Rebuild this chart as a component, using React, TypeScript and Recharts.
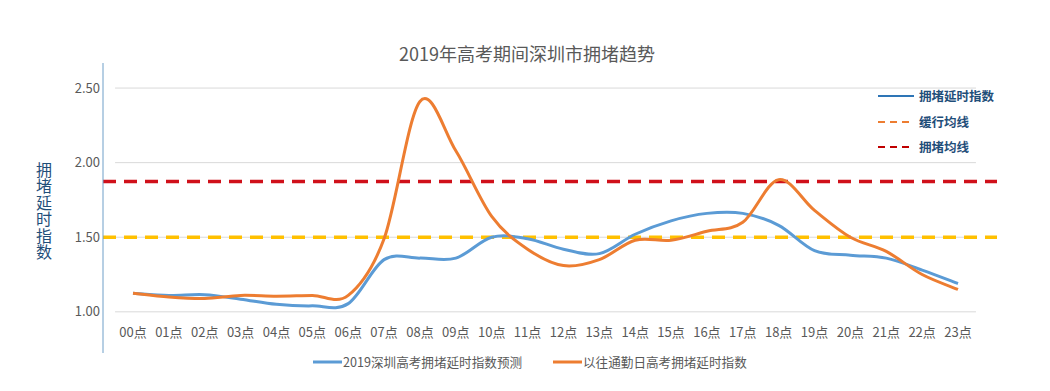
import React from "react";
import { LineChart, Line, XAxis, YAxis, ReferenceLine } from "recharts";

const hours = [
  "00点", "01点", "02点", "03点", "04点", "05点", "06点", "07点",
  "08点", "09点", "10点", "11点", "12点", "13点", "14点", "15点",
  "16点", "17点", "18点", "19点", "20点", "21点", "22点", "23点",
];
const forecast2019 = [
  1.125, 1.11, 1.115, 1.085, 1.05, 1.04, 1.055, 1.35, 1.36, 1.36, 1.5, 1.49,
  1.42, 1.39, 1.52, 1.61, 1.66, 1.66, 1.58, 1.41, 1.38, 1.36, 1.28, 1.19,
];
const pastCommute = [
  1.125, 1.1, 1.09, 1.11, 1.105, 1.11, 1.11, 1.49, 2.41, 2.08, 1.64, 1.42,
  1.31, 1.35, 1.48, 1.48, 1.54, 1.6, 1.886, 1.68, 1.5, 1.405, 1.25, 1.15,
];
const yTicks = [1.0, 1.5, 2.0, 2.5];
const slowAvg = 1.5;
const jamAvg = 1.874;

const FONT = '"Noto Sans CJK SC", "Noto Sans", sans-serif';

// excel-style smoothing (catmull-rom through every point)
function smoothCurve(context: any) {
  let pts: number[][] = [];
  return {
    areaStart() {},
    areaEnd() {},
    lineStart() {
      pts = [];
    },
    lineEnd() {
      const n = pts.length;
      if (!n) return;
      context.moveTo(pts[0][0], pts[0][1]);
      for (let i = 0; i < n - 1; i++) {
        const p0 = pts[Math.max(i - 1, 0)];
        const p1 = pts[i];
        const p2 = pts[i + 1];
        const p3 = pts[Math.min(i + 2, n - 1)];
        context.bezierCurveTo(
          p1[0] + (p2[0] - p0[0]) / 6,
          p1[1] + (p2[1] - p0[1]) / 6,
          p2[0] - (p3[0] - p1[0]) / 6,
          p2[1] - (p3[1] - p1[1]) / 6,
          p2[0],
          p2[1]
        );
      }
    },
    point(x: number, y: number) {
      pts.push([+x, +y]);
    },
  };
}

const data = hours.map((h, i) => ({
  idx: i,
  forecast: forecast2019[i],
  past: pastCommute[i],
}));

export default function App() {
  return (
    <div
      style={{
        position: "absolute",
        left: 0,
        top: 0,
        width: 1050,
        height: 391,
        background: "#fff",
        fontFamily: FONT,
      }}
    >
      <LineChart
        width={1050}
        height={391}
        data={data}
        margin={{ top: 63, right: 53, bottom: 38, left: 0 }}
      >
        <XAxis
          dataKey="idx"
          type="number"
          domain={[-0.836, 24.087]}
          allowDataOverflow
          ticks={hours.map((_, i) => i)}
          tickFormatter={(i: number) => hours[i]}
          axisLine={false}
          tickLine={false}
          mirror
          height={1}
          tickSize={0}
          tickMargin={16}
          interval={0}
          tick={{ fontSize: 13, fill: "#595959", fontFamily: FONT }}
        />
        <YAxis
          type="number"
          domain={[0.724, 2.668]}
          allowDataOverflow
          ticks={yTicks}
          tickFormatter={(v: number) => v.toFixed(2)}
          width={103}
          axisLine={{ stroke: "#6f9fc8", strokeWidth: 1 }}
          tickLine={false}
          tickSize={0}
          tickMargin={3}
          tick={{ fontSize: 13, fill: "#595959", fontFamily: FONT }}
        />
        {yTicks.map((v) => (
          <ReferenceLine
            key={v}
            segment={[
              { x: -0.5, y: v },
              { x: 23.5, y: v },
            ]}
            stroke="#d9d9d9"
            strokeWidth={1}
          />
        ))}
        <ReferenceLine
          y={slowAvg}
          stroke="#ffc000"
          strokeWidth={3.5}
          strokeDasharray="13 8"
        />
        <ReferenceLine
          y={jamAvg}
          stroke="#d0101a"
          strokeWidth={3.5}
          strokeDasharray="13 8"
        />
        <Line
          dataKey="forecast"
          type={smoothCurve as any}
          stroke="#5b9bd5"
          strokeWidth={3}
          dot={false}
          activeDot={false}
          isAnimationActive={false}
        />
        <Line
          dataKey="past"
          type={smoothCurve as any}
          stroke="#ed7d31"
          strokeWidth={3}
          dot={false}
          activeDot={false}
          isAnimationActive={false}
        />
      </LineChart>

      <div
        style={{
          position: "absolute",
          left: 0,
          top: 43,
          width: 1054,
          textAlign: "center",
          fontSize: 18,
          lineHeight: "20px",
          color: "#595959",
        }}
      >
        2019年高考期间深圳市拥堵趋势
      </div>

      <div
        style={{
          position: "absolute",
          left: 36,
          top: 161,
          width: 18,
          fontSize: 16,
          lineHeight: "16.4px",
          color: "#1f4e79",
          wordBreak: "break-all",
        }}
      >
        拥堵延时指数
      </div>

      {/* legend top right */}
      <svg
        style={{ position: "absolute", left: 870, top: 85 }}
        width={50}
        height={70}
      >
        <line x1={8} x2={44} y1={11} y2={11} stroke="#2e75b6" strokeWidth={2} />
        <line x1={8} x2={44} y1={37} y2={37} stroke="#ed7d31" strokeWidth={2} strokeDasharray="7 5" />
        <line x1={8} x2={44} y1={62} y2={62} stroke="#c00000" strokeWidth={2} strokeDasharray="7 5" />
      </svg>
      {[
        { t: "拥堵延时指数", y: 96 },
        { t: "缓行均线", y: 122 },
        { t: "拥堵均线", y: 147 },
      ].map((l) => (
        <div
          key={l.t}
          style={{
            position: "absolute",
            left: 919,
            top: l.y - 8,
            fontSize: 12.5,
            lineHeight: "16px",
            color: "#1f4e79",
            fontWeight: "bold",
          }}
        >
          {l.t}
        </div>
      ))}

      {/* legend bottom */}
      <svg
        style={{ position: "absolute", left: 310, top: 355 }}
        width={280}
        height={14}
      >
        <line x1={3} x2={32} y1={7} y2={7} stroke="#5b9bd5" strokeWidth={3} />
        <line x1={243} x2={272} y1={7} y2={7} stroke="#ed7d31" strokeWidth={3} />
      </svg>
      <div
        style={{
          position: "absolute",
          left: 343,
          top: 354,
          fontSize: 12.6,
          lineHeight: "16px",
          color: "#595959",
        }}
      >
        2019深圳高考拥堵延时指数预测
      </div>
      <div
        style={{
          position: "absolute",
          left: 583,
          top: 354,
          fontSize: 12.6,
          lineHeight: "16px",
          color: "#595959",
        }}
      >
        以往通勤日高考拥堵延时指数
      </div>
    </div>
  );
}
